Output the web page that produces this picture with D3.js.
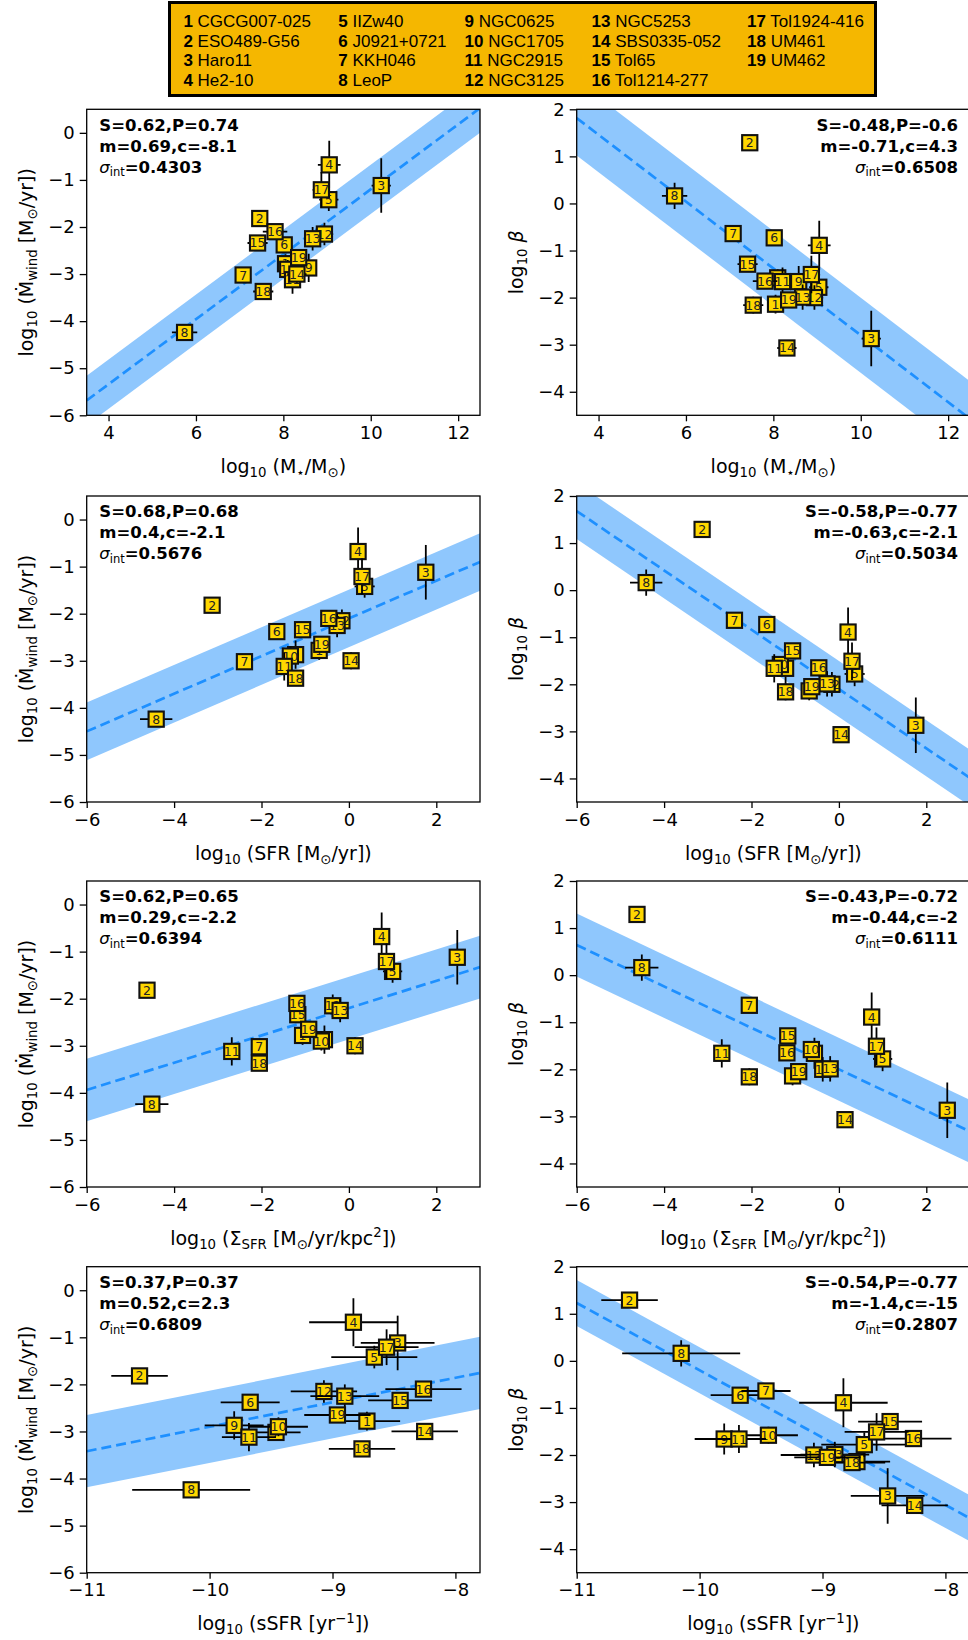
<!DOCTYPE html>
<html>
<head>
<meta charset="utf-8">
<script src="https://cdn.jsdelivr.net/npm/d3@7"></script>
<style>
body { margin: 0; background: #fff; }
svg { display: block; }
</style>
</head>
<body>
<svg id="fig" width="968" height="1640"></svg>
<script>
/* galaxies */
const galaxyIds = [1, 2, 3, 4, 5, 6, 7, 8, 9, 10, 11, 12, 13, 14, 15, 16, 17, 18, 19]
const galaxyNames = ["CGCG007-025", "ESO489-G56", "Haro11", "He2-10", "IIZw40", "J0921+0721",
    "KKH046", "LeoP", "NGC0625", "NGC1705", "NGC2915", "NGC3125", "NGC5253", "SBS0335-052",
    "Tol65", "Tol1214-277", "Tol1924-416", "UM461", "UM462"]

/* x quantities */
const logMstar = [8.05, 7.46, 10.24, 9.05, 9.04, 8.02, 7.08, 5.74, 8.58, 8.10, 8.21, 8.94, 8.67, 8.31, 7.41, 7.81, 8.87, 7.54, 8.35]
const logSFR = [-0.68, -3.13, 1.76, 0.21, 0.36, -1.65, -2.39, -4.41, -1.22, -1.34, -1.48, -0.16, -0.27, 0.05, -1.06, -0.46, 0.30, -1.22, -0.62]
const logSigmaSFR = [-1.06, -4.62, 2.48, 0.75, 1.00, null, -2.05, -4.51, -0.56, -0.63, -2.68, -0.37, -0.20, 0.14, -1.17, -1.19, 0.86, -2.05, -0.92]
const logsSFR = [-8.72, -10.57, -8.47, -8.83, -8.66, -9.67, -9.46, -10.15, -9.80, -9.44, -9.68, -9.07, -8.90, -8.25, -8.45, -8.26, -8.56, -8.76, -8.96]

const errMstar = [0.15, 0.05, 0.22, 0.26, 0.22, 0.12, 0.1, 0.29, 0.15, 0.15, 0.15, 0.2, 0.17, 0.22, 0.23, 0.28, 0.2, 0.23, 0.15]
const errSFR = [0.05, 0.05, 0.1, 0.1, 0.23, 0.05, 0.05, 0.37, 0.05, 0.05, 0.05, 0.1, 0.05, 0.05, 0.05, 0.05, 0.05, 0.05, 0.05]
const errSigmaSFR = [0.05, 0.05, 0.1, 0.1, 0.22, 0.05, 0.05, 0.38, 0.05, 0.05, 0.05, 0.1, 0.05, 0.05, 0.05, 0.05, 0.05, 0.05, 0.05]
const errsSFR = [0.27, 0.23, 0.3, 0.36, 0.35, 0.24, 0.2, 0.48, 0.24, 0.24, 0.22, 0.27, 0.28, 0.27, 0.26, 0.31, 0.26, 0.27, 0.27]

/* y quantities */
const logMdot = [-2.78, -1.82, -1.12, -0.68, -1.42, -2.38, -3.02, -4.24, -2.87, -2.90, -3.12, -2.15, -2.25, -3.0, -2.34, -2.10, -1.21, -3.37, -2.65]
const logBeta = [-2.14, 1.29, -2.87, -0.89, -1.78, -0.73, -0.64, 0.16, -1.66, -1.58, -1.66, -2.00, -1.99, -3.07, -1.29, -1.65, -1.51, -2.16, -2.05]
const errMdot = [0.2, 0, 0.58, 0.51, 0.24, 0, 0, 0.1, 0.3, 0.2, 0.3, 0.24, 0.25, 0.18, 0.12, 0.12, 0.38, 0.12, 0.15]
const errBeta = [0.2, 0, 0.59, 0.52, 0.26, 0, 0, 0.28, 0.33, 0.18, 0.3, 0.26, 0.27, 0.12, 0.14, 0.14, 0.4, 0.18, 0.15]

/* fits, one per panel (row by row, left then right) */
const statsLine1 = ["S=0.62,P=0.74", "S=-0.48,P=-0.6", "S=0.68,P=0.68", "S=-0.58,P=-0.77",
    "S=0.62,P=0.65", "S=-0.43,P=-0.72", "S=0.37,P=0.37", "S=-0.54,P=-0.77"]
const statsLine2 = ["m=0.69,c=-8.1", "m=-0.71,c=4.3", "m=0.4,c=-2.1", "m=-0.63,c=-2.1",
    "m=0.29,c=-2.2", "m=-0.44,c=-2", "m=0.52,c=2.3", "m=-1.4,c=-15"]
const sigmaInt = [0.4303, 0.6508, 0.5676, 0.5034, 0.6394, 0.6111, 0.6809, 0.2807]
const fitSlope = [0.69, -0.71, 0.40, -0.63, 0.29, -0.44, 0.52, -1.43]
const fitIntercept = [-8.1, 4.3, -2.1, -2.1, -2.2, -2.0, 2.3, -14.5]

/* axes */
const xDomains = [[3.5, 12.5], [-6, 3], [-6, 3], [-11, -7.8]]
const xTickVals = [[4, 6, 8, 10, 12], [-6, -4, -2, 0, 2], [-6, -4, -2, 0, 2], [-11, -10, -9, -8]]
const yDomains = [[-6, 0.5], [-4.5, 2]]
const yTickVals = [[0, -1, -2, -3, -4, -5, -6], [2, 1, 0, -1, -2, -3, -4]]

const xLabels = [
    [["log", ""], ["10", "sub"], [" (M", ""], ["\u22c6", "sub"], ["/M", ""], ["\u2299", "sub"], [")", ""]],
    [["log", ""], ["10", "sub"], [" (SFR [M", ""], ["\u2299", "sub"], ["/yr])", ""]],
    [["log", ""], ["10", "sub"], [" (\u03a3", ""], ["SFR", "sub"], [" [M", ""], ["\u2299", "sub"], ["/yr/kpc", ""], ["2", "sup"], ["])", ""]],
    [["log", ""], ["10", "sub"], [" (sSFR [yr", ""], ["\u22121", "sup"], ["])", ""]]
]
const yLabels = [
    [["log", ""], ["10", "sub"], [" (", ""], ["\u1e40", ""], ["wind", "sub"], [" [M", ""], ["\u2299", "sub"], ["/yr])", ""]],
    [["log", ""], ["10", "sub"], [" ", ""], ["\u03b2", "it"]]
]

const xData = [logMstar, logSFR, logSigmaSFR, logsSFR]
const xErr = [errMstar, errSFR, errSigmaSFR, errsSFR]
const yData = [logMdot, logBeta]
const yErr = [errMdot, errBeta]

const W = 393.3, H = 306
const colX = [86.7, 576.7]
const rowY = [109.3, 496, 881, 1266.7]
const font = "DejaVu Sans, sans-serif"

const svg = d3.select("#fig")

function addRich(sel, parts, fs) {
    let cur = 0
    parts.forEach(([str, mode]) => {
        const modes = mode.split(" ")
        const ts = sel.append("tspan").text(str)
        const off = modes.includes("sub") ? 0.22 * fs : modes.includes("sup") ? -0.4 * fs : 0
        if (off !== cur) ts.attr("dy", off - cur)
        cur = off
        if (modes.includes("sub") || modes.includes("sup")) ts.attr("font-size", (fs * 0.7).toFixed(1))
        if (modes.includes("it")) ts.attr("font-style", "italic")
        if (modes.includes("bold")) ts.attr("font-weight", "bold")
    })
}

function drawPanel(row, col) {
    const p = row * 2 + col
    const x0 = colX[col], y0 = rowY[row]
    const x = d3.scaleLinear().domain(xDomains[row]).range([x0, x0 + W])
    const y = d3.scaleLinear().domain(yDomains[col]).range([y0 + H, y0])
    const g = svg.append("g")

    const clipId = "clip" + p
    svg.append("clipPath").attr("id", clipId)
        .append("rect").attr("x", x0).attr("y", y0).attr("width", W).attr("height", H)
    const inner = g.append("g").attr("clip-path", `url(#${clipId})`)

    // fit band and dashed line
    const m = fitSlope[p], c = fitIntercept[p]
    const hw = sigmaInt[p] * Math.sqrt(1 + m * m)
    const [xa, xb] = xDomains[row]
    const f = v => m * v + c
    const band = [[xa, f(xa) + hw], [xb, f(xb) + hw], [xb, f(xb) - hw], [xa, f(xa) - hw]]
    inner.append("path")
        .attr("d", "M" + band.map(d => x(d[0]) + "," + y(d[1])).join("L") + "Z")
        .attr("fill", "#8fc7fd")
    inner.append("line")
        .attr("x1", x(xa)).attr("y1", y(f(xa)))
        .attr("x2", x(xb)).attr("y2", y(f(xb)))
        .attr("stroke", "#1e90ff").attr("stroke-width", 2.7)
        .attr("stroke-dasharray", "10,5")

    // galaxies, in order so later ones sit on top
    const xs = xData[row], xe = xErr[row], ys = yData[col], ye = yErr[col]
    galaxyIds.forEach((id, i) => {
        if (xs[i] == null) return
        const gx = x(xs[i]), gy = y(ys[i])
        const gg = inner.append("g")
        if (xe[i] > 0) gg.append("line")
            .attr("x1", x(xs[i] - xe[i])).attr("x2", x(xs[i] + xe[i]))
            .attr("y1", gy).attr("y2", gy)
            .attr("stroke", "#000").attr("stroke-width", 1.8)
        if (ye[i] > 0) gg.append("line")
            .attr("x1", gx).attr("x2", gx)
            .attr("y1", y(ys[i] - ye[i])).attr("y2", y(ys[i] + ye[i]))
            .attr("stroke", "#000").attr("stroke-width", 1.8)
        gg.append("rect")
            .attr("x", gx - 7.6).attr("y", gy - 7.6)
            .attr("width", 15.2).attr("height", 15.2)
            .attr("fill", "#ffd700").attr("stroke", "#111").attr("stroke-width", 2.1)
        gg.append("text")
            .attr("x", gx).attr("y", gy + 4.5)
            .attr("text-anchor", "middle")
            .attr("font-family", font).attr("font-size", 12.5)
            .attr("fill", "#222")
            .text(id)
    })

    // axes
    const xAxis = d3.axisBottom(x).tickValues(xTickVals[row]).tickFormat(d3.format("d"))
        .tickSizeInner(6).tickSizeOuter(0).tickPadding(5)
    const yAxis = d3.axisLeft(y).tickValues(yTickVals[col]).tickFormat(d3.format("d"))
        .tickSizeInner(7).tickSizeOuter(0).tickPadding(5)
    const gxAxis = g.append("g").attr("transform", `translate(0,${y0 + H})`).call(xAxis)
    const gyAxis = g.append("g").attr("transform", `translate(${x0},0)`).call(yAxis)
    ;[gxAxis, gyAxis].forEach(a => {
        a.select(".domain").remove()
        a.selectAll("line").attr("stroke", "#000").attr("stroke-width", 1.3)
        a.selectAll("text").attr("font-family", font).attr("font-size", 18).attr("fill", "#000")
    })

    g.append("rect")
        .attr("x", x0).attr("y", y0).attr("width", W).attr("height", H)
        .attr("fill", "none").attr("stroke", "#000").attr("stroke-width", 1.3)

    // axis labels
    const xl = g.append("text")
        .attr("x", x0 + W / 2).attr("y", y0 + H + 57.5)
        .attr("text-anchor", "middle")
        .attr("font-family", font).attr("font-size", 19)
    addRich(xl, xLabels[row], 19)
    const yl = g.append("text")
        .attr("transform", `translate(${x0 - 53.5},${y0 + H / 2}) rotate(-90)`)
        .attr("text-anchor", "middle")
        .attr("font-family", font).attr("font-size", 19)
    addRich(yl, yLabels[col], 19)

    // fit statistics
    const tx = col === 0 ? x0 + 12.6 : x0 + W - 12
    const anchor = col === 0 ? "start" : "end"
    const lines = [
        [[statsLine1[p], "bold"]],
        [[statsLine2[p], "bold"]],
        [["\u03c3", "it"], ["int", "sub"], ["=" + sigmaInt[p].toFixed(4), "bold"]]
    ]
    lines.forEach((parts, k) => {
        const t = g.append("text")
            .attr("x", tx).attr("y", y0 + 21.4 + k * 21)
            .attr("text-anchor", anchor)
            .attr("font-family", font).attr("font-size", 16.5)
        addRich(t, parts, 16.5)
    })
}

for (let r = 0; r < 4; r++) {
    for (let c = 0; c < 2; c++) drawPanel(r, c)
}

/* legend box */
const legCols = [183.4, 338.3, 464.6, 591.5, 747]
const legRows = [26.5, 46.5, 66.3, 86.2]
svg.append("rect")
    .attr("x", 169.5).attr("y", 2.5).attr("width", 706).attr("height", 93)
    .attr("fill", "#f5b700").attr("stroke", "#000").attr("stroke-width", 3)
galaxyIds.forEach((id, i) => {
    const t = svg.append("text")
        .attr("x", legCols[Math.floor(i / 4)]).attr("y", legRows[i % 4])
        .attr("font-family", "Liberation Sans, Arial, sans-serif").attr("font-size", 17)
        .attr("fill", "#000")
    t.append("tspan").attr("font-weight", "bold").text(id)
    t.append("tspan").text(" " + galaxyNames[i])
})
</script>
</body>
</html>
